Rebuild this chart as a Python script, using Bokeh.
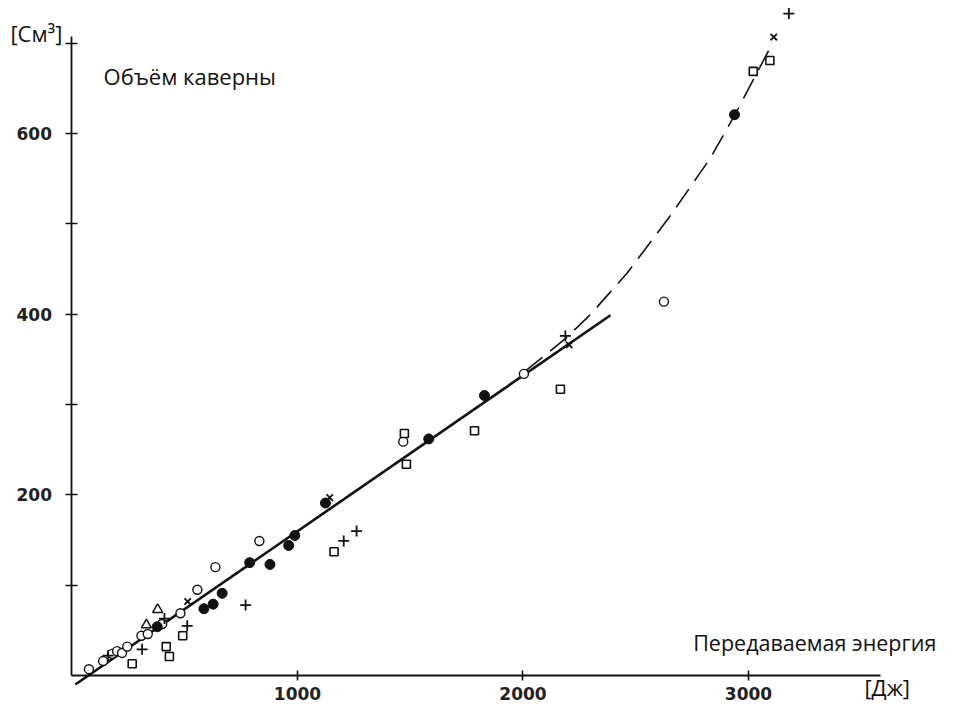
from bokeh.plotting import figure
from bokeh.models import Range1d, FixedTicker, Label
from bokeh.embed import file_html
from bokeh.resources import INLINE

# ---- data ----
open_circle_x = [75, 138, 178, 200, 222, 245, 308, 336, 400, 481, 556, 636, 831, 1469, 2004, 2625]
open_circle_y = [7, 16, 24, 27, 25, 32, 44, 46, 57, 69, 95, 120, 149, 259, 334, 414]

filled_x = [378, 585, 626, 666, 788, 878, 961, 988, 1124, 1582, 1829, 2938]
filled_y = [54, 74, 79, 91, 125, 123, 144, 155, 191, 262, 310, 621]

square_x = [267, 418, 432, 491, 1162, 1474, 1483, 1785, 2166, 3021, 3095]
square_y = [13, 32, 21, 44, 137, 268, 234, 271, 317, 669, 681]

plus_x = [160, 311, 410, 511, 770, 1205, 1262, 2188, 3179]
plus_y = [22, 29, 63, 55, 78, 149, 160, 376, 733]

cross_x = [513, 1143, 2205, 3112]
cross_y = [82, 197, 366, 707]

triangle_x = [330, 380]
triangle_y = [56, 73]

fit_x = [15, 2388]
fit_y = [-10, 399]

dash_x = [2010, 2188, 2300, 2463, 2650, 2831, 2942, 3104]
dash_y = [337, 373, 400, 446, 508, 573, 622, 699]

x_ticks = [1000, 2000, 3000]
y_ticks = [100, 200, 300, 400, 500, 600, 700]
y_tick_labels = {100: "", 200: "200", 300: "", 400: "400", 500: "", 600: "600", 700: ""}

# ---- figure ----
p = figure(width=938, height=704,
           x_range=Range1d(-317, 3842.6), y_range=Range1d(-32.1, 747.5),
           output_backend="svg", toolbar_location=None, min_border=0)
p.outline_line_color = None
p.xgrid.visible = False
p.ygrid.visible = False
p.background_fill_color = "white"
p.border_fill_color = "white"

ink = "#111111"

for ax in (p.xaxis, p.yaxis):
    ax.fixed_location = 0
    ax.axis_line_color = ink
    ax.axis_line_width = 1.8
    ax.major_tick_line_color = ink
    ax.major_tick_line_width = 1.6
    ax.minor_tick_line_color = None
    ax.major_label_text_font = "DejaVu Sans"
    ax.major_label_text_font_style = "bold"
    ax.major_label_text_font_size = "17px"
    ax.major_label_text_color = "#222222"

p.xaxis.ticker = FixedTicker(ticks=x_ticks)
p.xaxis.bounds = (0, 3585)
p.xaxis.major_tick_in = 5
p.xaxis.major_tick_out = 5
p.xaxis.major_label_standoff = 6

p.yaxis.ticker = FixedTicker(ticks=y_ticks)
p.yaxis.major_label_overrides = y_tick_labels
p.yaxis.bounds = (0, 708)
p.yaxis.major_tick_in = 6
p.yaxis.major_tick_out = 6
p.yaxis.major_label_standoff = 14

# ---- lines ----
p.line(fit_x, fit_y, line_color=ink, line_width=2.6)
p.line(dash_x, dash_y, line_color=ink, line_width=1.6, line_dash="22 10")

# ---- markers ----
p.scatter(open_circle_x, open_circle_y, marker="circle", size=9,
          fill_color="white", line_color=ink, line_width=1.4)
p.scatter(filled_x, filled_y, marker="circle", size=10,
          fill_color=ink, line_color=ink, line_width=1)
p.scatter(square_x, square_y, marker="square", size=8,
          fill_color="white", line_color=ink, line_width=1.6)
p.scatter(plus_x, plus_y, marker="cross", size=11,
          line_color=ink, line_width=1.8)
p.scatter(cross_x, cross_y, marker="x", size=9,
          line_color=ink, line_width=1.8)
p.scatter(triangle_x, triangle_y, marker="triangle", size=10,
          fill_color="white", line_color=ink, line_width=1.5)

# ---- texts ----
def add_label(x, y, text, size="22px", align="left"):
    p.add_layout(Label(x=x, y=y, text=text, text_font="Open Sans",
                       text_font_size=size, text_color=ink,
                       text_align=align, text_baseline="alphabetic"))

add_label(-273, 711, "[См³]")
add_label(140, 664, "Объём каверны")
add_label(3833, 37, "Передаваемая энергия", size="21.5px", align="right")
add_label(3514, -13, "[Дж]")

open("out.html", "w").write(file_html(p, INLINE))
